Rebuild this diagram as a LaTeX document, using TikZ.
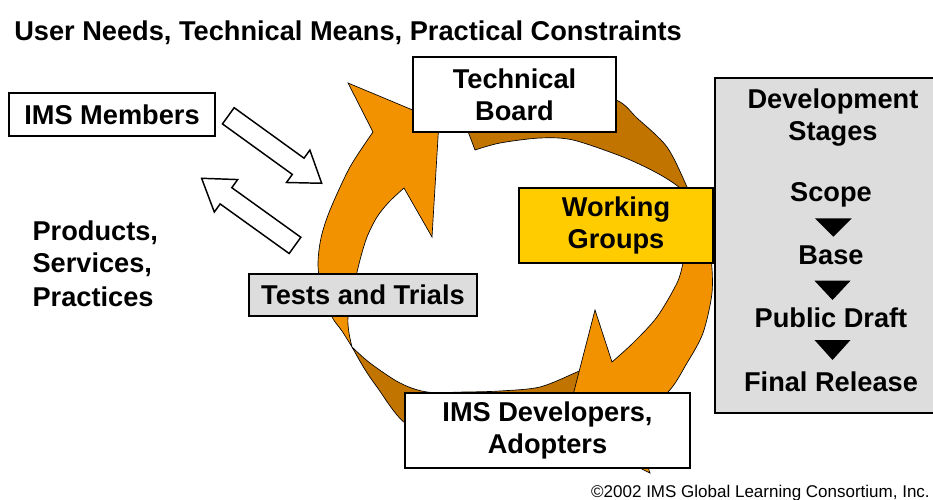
\documentclass[tikz,border=0pt]{standalone}
\usepackage{fontspec}
\setmainfont{Liberation Sans}
\definecolor{lightor}{RGB}{242,146,0}
\definecolor{darkor}{RGB}{194,116,0}
\definecolor{boxgrey}{RGB}{221,221,221}
\definecolor{wgyellow}{RGB}{255,204,0}
\begin{document}
\begin{tikzpicture}[x=0.75pt,y=-0.75pt,
  lbl/.style={font=\bfseries\fontsize{20.4}{24}\selectfont, align=center, inner sep=0pt},
  box/.style={draw=black, line width=0.9pt, fill=white, lbl},
  ringdark/.style={draw=black, line width=0.5pt, line join=round, fill=darkor},
  ringlight/.style={draw=black, line width=0.5pt, line join=miter, fill=lightor},
  blockarrow/.style={draw=black, fill=white, line width=1.1pt, line join=miter},
  tri/.style={fill=black},
]
\useasboundingbox (0,0) rectangle (933,500);
\clip (0,0) rectangle (933,500);

% dark tails (back side of the twisted arrows)
\draw[ringdark] plot[smooth] coordinates {(452,89) (500,82) (560,86) (616,100) (637,118) (667,147) (687,187) (693,205)}
  -- plot[smooth] coordinates {(693,205) (680,188) (657,173) (623,157) (573,140) (540,138) (500,143) (475,150)} -- cycle;
\draw[ringdark] plot[smooth] coordinates {(352,347) (364,368) (377,387) (405,423) (450,442) (500,450) (560,450) (606,442)}
  -- (590,366)
  -- plot[smooth] coordinates {(590,366) (577,372) (540,387) (500,391) (465,392) (427,392) (400,383) (370,363) (352,347)} -- cycle;

% light fronts with heads
\draw[ringlight] plot[smooth] coordinates {(352,347) (342,331) (332,317) (322,292) (318,265) (321,238) (330,210) (350,167) (373,132)}
  -- (348,83) -- (439,121) -- (432,237) -- (404,188)
  -- plot[smooth] coordinates {(404,188) (389,202) (377,217) (367,237) (360,260) (353,290) (348,317) (349,333) (352,347)} -- cycle;
\draw[ringlight] plot[smooth] coordinates {(692,205) (704,230) (711,258) (712,293) (703,333) (687,363) (667,393) (630,415)}
  -- (650,473) -- (564,430) -- (595,310) -- (612,362)
  -- plot[smooth] coordinates {(612,362) (633,343) (657,317) (677,283) (683,263) (687,240) (692,205)} -- cycle;

% block arrows between IMS Members and the cycle
\begin{scope}[shift={(228.3,115.8)}, rotate=-35.85]
  \draw[blockarrow] (0,-10) -- (86.2,-10) -- (86.2,-20) -- (115.2,0) -- (86.2,20) -- (86.2,10) -- (0,10) -- cycle;
\end{scope}
\begin{scope}[shift={(295,245.4)}, rotate=144.3]
  \draw[blockarrow] (0,-10) -- (85,-10) -- (85,-20) -- (115,0) -- (85,20) -- (85,10) -- (0,10) -- cycle;
\end{scope}

% boxes
\node[box, minimum width=152.25pt, minimum height=56.25pt] (tb) at (514.5,94.5) {Technical\\Board};
\node[box, fill=wgyellow, minimum width=145.5pt, minimum height=56.25pt] (wg) at (616,225.5) {Working\\Groups};
\node[box, fill=boxgrey, minimum width=171pt, minimum height=31.5pt] (tt) at (363,295) {Tests and Trials};
\node[box, minimum width=213.75pt, minimum height=56.25pt] (dev) at (547.5,430.5) {IMS Developers,\\Adopters};
\node[box, minimum width=154.5pt, minimum height=32.25pt] (ims) at (112,114.5) {IMS Members};

% development stages
\node[draw=black, line width=1.4pt, fill=boxgrey, minimum width=176.25pt, minimum height=251.25pt] (stages) at (832.5,245.5) {};
\node[lbl, anchor=base] (devt) at (833,108.5) {Development};
\node[lbl, anchor=base] (stg) at (833,140) {Stages};
\node[lbl, anchor=base] (scope) at (831,201.5) {Scope};
\node[lbl, anchor=base] (base) at (831,264) {Base};
\node[lbl, anchor=base] (pub) at (831,327.5) {Public Draft};
\node[lbl, anchor=base] (final) at (831,391.5) {Final Release};
\fill[tri] (815,218.3) -- (851.7,218.3) -- (833.3,236.7) -- cycle;
\fill[tri] (814.5,280.7) -- (850.5,280.7) -- (832.5,300) -- cycle;
\fill[tri] (814.5,340) -- (850.5,340) -- (832.5,360) -- cycle;

% free texts
\node[lbl, anchor=base west] (title) at (14,40) {User Needs, Technical Means, Practical Constraints};
\node[lbl, anchor=base west] (prod) at (32.3,240) {Products,};
\node[lbl, anchor=base west] (serv) at (32.3,272) {Services,};
\node[lbl, anchor=base west] (prac) at (32.3,306) {Practices};
\node[anchor=base east, inner sep=0pt, font=\fontsize{12.75}{15}\selectfont] (copy) at (930,497) {©2002 IMS Global Learning Consortium, Inc.};
\end{tikzpicture}
\end{document}
